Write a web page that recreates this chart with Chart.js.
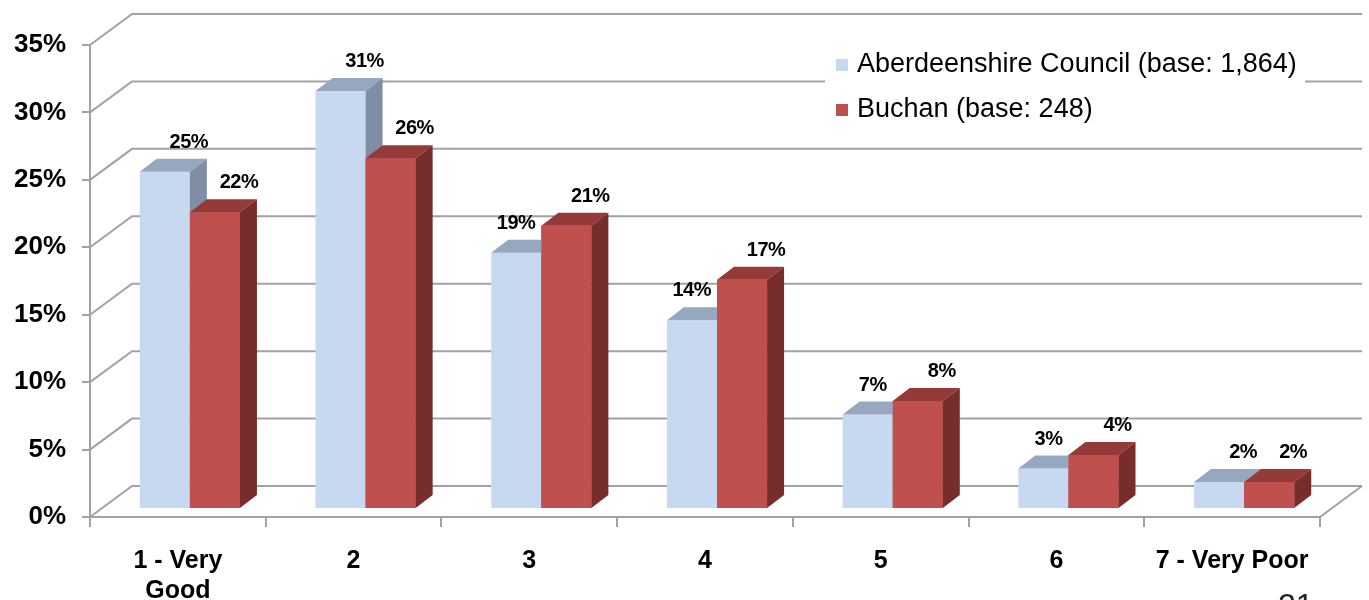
<!DOCTYPE html>
<html>
<head>
<meta charset="utf-8">
<script src="https://cdn.jsdelivr.net/npm/chart.js@4.4.0/dist/chart.umd.min.js"></script>
<style>
  html, body { margin: 0; padding: 0; background: #fff; }
  canvas { display: block; }
</style>
</head>
<body>
<canvas id="chart" width="1369" height="600"></canvas>
<script>
// data
var categories = [["1 - Very", "Good"], "2", "3", "4", "5", "6", "7 - Very Poor"];
var aberdeenshire = [25, 31, 19, 14, 7, 3, 2];
var buchan = [22, 26, 21, 17, 8, 4, 2];
var seriesNames = ["Aberdeenshire Council (base: 1,864)", "Buchan (base: 248)"];
var yTicks = [0, 5, 10, 15, 20, 25, 30, 35];
var pageNumber = "21";

// look
var gridColour = "#a2a2a2";
var fontFamily = "'Liberation Sans', Arial, sans-serif";
var frontColours = ["#c6d9f1", "#c0504d"];
var topColours = ["#95a8c0", "#943a38"];
var sideColours = ["#7f8ea5", "#772d2b"];
var wallDx = 42, wallDy = 31;   // back wall offset
var barDx = 17, barDy = 13;     // bar depth
var shiftX = 12, shiftY = -8;   // bars sit a bit back from the front plane

function poly(ctx, pts, fill) {
  ctx.beginPath();
  ctx.moveTo(pts[0][0], pts[0][1]);
  for (var i = 1; i < pts.length; i++) ctx.lineTo(pts[i][0], pts[i][1]);
  ctx.closePath();
  ctx.fillStyle = fill;
  ctx.fill();
}

function drawFaces(ctx, meta, i) {
  meta.data.forEach(function (el) {
    var b = el.getProps(["x", "y", "base", "width"], true);
    var l = b.x - b.width / 2, r = b.x + b.width / 2;
    var t = Math.min(b.y, b.base), bot = Math.max(b.y, b.base);
    poly(ctx, [[l, t], [l + barDx, t - barDy], [r + barDx, t - barDy], [r, t]], topColours[i]);
    poly(ctx, [[r, t], [r + barDx, t - barDy], [r + barDx, bot - barDy], [r, bot]], sideColours[i]);
  });
}

var excel3d = {
  id: "excel3d",
  beforeDatasetsDraw(chart) {
    var ctx = chart.ctx, a = chart.chartArea, ys = chart.scales.y;
    ctx.save();
    ctx.strokeStyle = gridColour;
    ctx.lineWidth = 2;
    yTicks.forEach(function (v) {
      var y = ys.getPixelForValue(v);
      ctx.beginPath();
      ctx.moveTo(a.left, y);
      ctx.lineTo(a.left + wallDx, y - wallDy);
      ctx.lineTo(a.right + wallDx, y - wallDy);
      ctx.stroke();
    });
    ctx.beginPath();
    ctx.moveTo(a.right, a.bottom);
    ctx.lineTo(a.right + wallDx, a.bottom - wallDy);
    ctx.stroke();
    ctx.restore();
    // bars drawn shifted into the depth
    ctx.save();
    ctx.translate(shiftX, shiftY);
  },
  afterDatasetDraw(chart, args) {
    // Chart.js paints the last dataset first; the blue one comes last,
    // so add its faces, then paint the red bars again in front of it
    if (args.index !== 0) return;
    var ctx = chart.ctx;
    drawFaces(ctx, args.meta, 0);
    var redMeta = chart.getDatasetMeta(1);
    redMeta.data.forEach(function (el) { el.draw(ctx); });
    drawFaces(ctx, redMeta, 1);
  },
  afterDatasetsDraw(chart) {
    var ctx = chart.ctx;
    ctx.restore();
    ctx.save();
    ctx.font = "bold 20px " + fontFamily;
    ctx.letterSpacing = "-0.5px";
    ctx.fillStyle = "#000";
    ctx.textAlign = "center";
    ctx.textBaseline = "alphabetic";
    var blue = chart.getDatasetMeta(0).data, red = chart.getDatasetMeta(1).data;
    chart.data.datasets.forEach(function (ds, i) {
      chart.getDatasetMeta(i).data.forEach(function (el, j) {
        var b = el.getProps(["x", "y", "width"], true);
        var txt = ds.data[j] + "%";
        var cx = b.x + shiftX + 24;
        if (i === 0 && buchan[j] > aberdeenshire[j]) {
          // keep clear of the taller red bar next to it
          var redLeft = red[j].x - red[j].width / 2 + shiftX;
          cx = Math.min(cx, redLeft - 6 - ctx.measureText(txt).width / 2);
        }
        ctx.fillText(txt, cx, b.y + shiftY - barDy - 11);
      });
    });
    ctx.restore();
  },
  afterDraw(chart) {
    var ctx = chart.ctx;
    ctx.save();
    // legend box
    ctx.fillStyle = "#fff";
    ctx.fillRect(825, 38, 480, 94);
    ctx.font = "27px " + fontFamily;
    ctx.textBaseline = "middle";
    ctx.textAlign = "left";
    var rows = [65, 110];
    seriesNames.forEach(function (name, i) {
      ctx.fillStyle = frontColours[i];
      ctx.fillRect(836, rows[i] - 6, 12, 12);
      ctx.fillStyle = "#000";
      ctx.fillText(name, 857, rows[i]);
    });
    // slide number peeking in at the bottom
    ctx.font = "32px " + fontFamily;
    ctx.fillStyle = "#222";
    ctx.textBaseline = "alphabetic";
    ctx.fillText(pageNumber, 1278, 616);
    ctx.restore();
  }
};

new Chart(document.getElementById("chart"), {
  type: "bar",
  data: {
    labels: categories,
    datasets: [
      { label: seriesNames[0], data: aberdeenshire, backgroundColor: frontColours[0], clip: false },
      { label: seriesNames[1], data: buchan, backgroundColor: frontColours[1], clip: false }
    ]
  },
  options: {
    responsive: false,
    animation: false,
    devicePixelRatio: 1,
    layout: { padding: { top: 45, right: 49, left: 0, bottom: 0 } },
    datasets: { bar: { categoryPercentage: 0.57, barPercentage: 1, borderWidth: 0 } },
    plugins: { legend: { display: false }, tooltip: { enabled: false } },
    scales: {
      x: {
        afterFit: function (s) { s.height = 83; },
        grid: { drawOnChartArea: false, drawTicks: true, tickLength: 10, color: gridColour, lineWidth: 2 },
        border: { display: true, color: gridColour, width: 2 },
        ticks: {
          autoSkip: false, maxRotation: 0, padding: 19, color: "#000",
          font: { family: fontFamily, size: 25, weight: "bold", lineHeight: 1.2 }
        }
      },
      y: {
        min: 0, max: 35,
        afterFit: function (s) { s.width = 90; },
        afterBuildTicks: function (s) { s.ticks = yTicks.map(function (v) { return { value: v }; }); },
        grid: { drawOnChartArea: false, drawTicks: true, tickLength: 8, color: gridColour, lineWidth: 2 },
        border: { display: true, color: gridColour, width: 2 },
        ticks: {
          padding: 16, color: "#000",
          font: { family: fontFamily, size: 26, weight: "bold" },
          callback: function (v) { return v + "%"; }
        }
      }
    }
  },
  plugins: [excel3d]
});
</script>
</body>
</html>
